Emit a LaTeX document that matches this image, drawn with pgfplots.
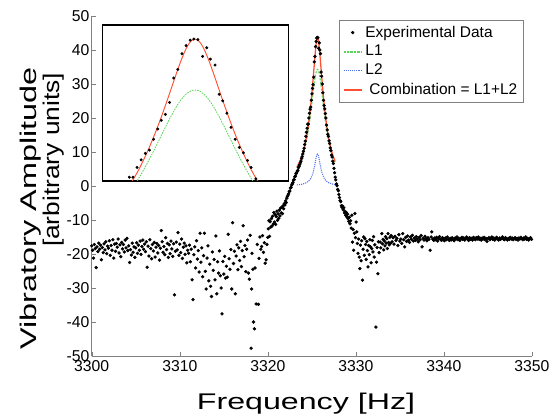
\documentclass[border=0pt]{standalone}
\usepackage{pgfplots}
\pgfplotsset{compat=1.18}
\usepackage{pgfplotstable}
\usepackage{fontspec}
\setmainfont{Liberation Sans}

\definecolor{fitgreen}{RGB}{90,215,90}
\definecolor{fitblue}{RGB}{80,110,240}
\definecolor{fitred}{RGB}{255,80,50}

\pgfplotstableread[row sep=\\]{
x y\\
3300.0 -17.6\\ 3300.1 -18.9\\ 3300.2 -21.2\\ 3300.3 -17.2\\ 3300.4 -18.4\\ 3300.5 -24.0\\ 3300.6 -17.9\\ 3300.7 -19.3\\ 3300.8 -16.8\\ 3300.9 -18.6\\
3301.0 -17.4\\ 3301.1 -21.7\\ 3301.2 -18.1\\ 3301.3 -19.6\\ 3301.4 -17.0\\ 3301.5 -18.8\\ 3301.6 -16.4\\ 3301.7 -19.9\\ 3301.8 -17.7\\ 3301.9 -18.3\\
3302.0 -16.1\\ 3302.1 -20.4\\ 3302.2 -17.5\\ 3302.3 -18.9\\ 3302.4 -15.8\\ 3302.5 -21.2\\ 3302.6 -17.1\\ 3302.7 -19.2\\ 3302.8 -16.9\\ 3302.9 -18.0\\
3303.0 -15.6\\ 3303.1 -19.7\\ 3303.2 -17.3\\ 3303.3 -20.8\\ 3303.4 -16.6\\ 3303.5 -18.5\\ 3303.6 -17.2\\ 3303.7 -19.4\\ 3303.8 -15.9\\ 3303.9 -18.2\\
3304.0 -15.4\\ 3304.1 -19.0\\ 3304.2 -17.6\\ 3304.3 -22.5\\ 3304.4 -18.7\\ 3304.5 -20.3\\ 3304.6 -16.8\\ 3304.7 -19.5\\ 3304.8 -17.9\\ 3304.9 -21.0\\
3305.0 -18.2\\ 3305.1 -16.7\\ 3305.2 -19.8\\ 3305.3 -17.4\\ 3305.4 -18.9\\ 3305.5 -16.2\\ 3305.6 -20.1\\ 3305.7 -17.8\\ 3305.8 -15.9\\ 3305.9 -18.6\\
3306.0 -17.1\\ 3306.1 -19.3\\ 3306.2 -16.4\\ 3306.3 -23.9\\ 3306.4 -17.7\\ 3306.5 -20.6\\ 3306.6 -15.8\\ 3306.7 -18.4\\ 3306.8 -21.4\\ 3306.9 -17.2\\
3307.0 -19.1\\ 3307.1 -16.6\\ 3307.2 -20.9\\ 3307.3 -18.0\\ 3307.4 -16.9\\ 3307.5 -19.7\\ 3307.6 -17.5\\ 3307.7 -21.8\\ 3307.8 -18.3\\ 3307.9 -13.1\\
3308.0 -16.4\\ 3308.1 -19.5\\ 3308.2 -17.8\\ 3308.3 -20.2\\ 3308.4 -15.2\\ 3308.5 -18.7\\ 3308.6 -16.9\\ 3308.7 -21.0\\ 3308.8 -17.3\\ 3308.9 -19.9\\
3309.0 -16.2\\ 3309.1 -18.5\\ 3309.2 -20.7\\ 3309.3 -17.0\\ 3309.4 -32.0\\ 3309.5 -19.2\\ 3309.6 -16.5\\ 3309.7 -18.8\\ 3309.8 -13.7\\ 3309.9 -20.4\\
3310.0 -17.1\\ 3310.1 -19.6\\ 3310.2 -15.6\\ 3310.3 -21.3\\ 3310.4 -18.0\\ 3310.5 -16.8\\ 3310.6 -20.1\\ 3310.7 -17.6\\ 3310.8 -22.6\\ 3310.9 -18.9\\
3311.0 -19.8\\ 3311.1 -17.4\\ 3311.2 -22.3\\ 3311.3 -18.6\\ 3311.4 -27.6\\ 3311.5 -33.4\\ 3311.6 -20.2\\ 3311.7 -17.9\\ 3311.8 -24.1\\ 3311.9 -16.1\\
3312.0 -21.5\\ 3312.1 -19.0\\ 3312.2 -25.3\\ 3312.3 -13.9\\ 3312.4 -22.4\\ 3312.5 -18.2\\ 3312.6 -26.7\\ 3312.7 -20.5\\ 3312.8 -13.9\\ 3312.9 -25.1\\
3313.0 -30.3\\ 3313.1 -21.2\\ 3313.2 -17.6\\ 3313.3 -27.9\\ 3313.4 -23.0\\ 3313.5 -29.5\\ 3313.6 -32.5\\ 3313.7 -19.4\\ 3313.8 -24.8\\ 3313.9 -21.6\\
3314.0 -27.6\\ 3314.1 -14.7\\ 3314.2 -31.7\\ 3314.3 -22.3\\ 3314.4 -25.6\\ 3314.5 -19.1\\ 3314.6 -26.4\\ 3314.7 -30.0\\ 3314.8 -37.6\\ 3314.9 -22.2\\
3315.0 -25.9\\ 3315.1 -20.7\\ 3315.2 -27.1\\ 3315.3 -23.6\\ 3315.4 -26.8\\ 3315.5 -14.2\\ 3315.6 -21.4\\ 3315.7 -24.5\\ 3315.8 -18.7\\ 3315.9 -30.3\\
3316.0 -10.8\\ 3316.1 -22.8\\ 3316.2 -19.2\\ 3316.3 -31.7\\ 3316.4 -20.6\\ 3316.5 -17.3\\ 3316.6 -24.6\\ 3316.7 -18.2\\ 3316.8 -21.9\\ 3316.9 -16.3\\
3317.0 -23.7\\ 3317.1 -19.0\\ 3317.2 -11.7\\ 3317.3 -20.8\\ 3317.4 -17.5\\ 3317.5 -25.2\\ 3317.6 -18.6\\ 3317.7 -15.9\\ 3317.8 -25.6\\ 3317.9 -27.4\\
3318.0 -14.5\\ 3318.1 -47.7\\ 3318.15 -30.3\\ 3318.2 -19.8\\ 3318.3 -24.5\\ 3318.37 -40.0\\ 3318.48 -42.0\\ 3318.55 -24.1\\ 3318.67 -34.7\\ 3318.8 -17.2\\
3318.93 -34.8\\ 3319.0 -21.3\\ 3319.1 -15.0\\ 3319.2 -18.6\\ 3319.3 -17.8\\ 3319.4 -14.6\\ 3319.5 -19.5\\ 3319.6 -16.7\\ 3319.7 -22.7\\ 3319.8 -21.7\\
3319.9 -17.2\\ 3320.0 -15.1\\
3320.05 -12.6\\ 3320.12 -10.2\\ 3320.19 -14.8\\ 3320.26 -10.5\\ 3320.33 -12.1\\ 3320.40 -9.6\\ 3320.47 -11.8\\ 3320.54 -8.9\\ 3320.61 -11.2\\ 3320.68 -7.8\\
3320.75 -10.6\\ 3320.82 -8.4\\ 3320.89 -11.3\\ 3320.96 -9.0\\ 3321.03 -7.4\\ 3321.10 -10.1\\ 3321.17 -8.2\\ 3321.24 -9.5\\ 3321.31 -7.1\\ 3321.38 -8.8\\
3321.45 -6.5\\ 3321.52 -7.9\\ 3321.59 -6.3\\ 3321.66 -8.1\\ 3321.73 -5.8\\ 3321.80 -6.7\\ 3321.87 -5.2\\ 3321.94 -5.6\\ 3322.01 -4.4\\ 3322.08 -4.9\\
3322.15 -3.6\\ 3322.22 -3.1\\ 3322.29 -2.7\\ 3322.36 -2.3\\ 3322.43 -1.6\\ 3322.50 -1.5\\ 3322.57 -0.6\\ 3322.64 -0.4\\ 3322.71 0.3\\ 3322.78 0.6\\
3322.85 1.0\\ 3322.92 1.7\\ 3322.99 1.9\\ 3323.06 2.7\\ 3323.13 2.9\\ 3323.20 3.6\\ 3323.27 3.9\\ 3323.34 4.4\\ 3323.41 4.6\\ 3323.48 5.4\\
3323.55 5.8\\ 3323.62 6.3\\ 3323.69 6.8\\ 3323.76 7.3\\ 3323.83 8.1\\ 3323.90 8.6\\ 3323.97 9.4\\ 3324.04 10.2\\ 3324.11 11.1\\ 3324.18 12.2\\
3324.25 13.2\\ 3324.32 14.6\\ 3324.39 15.8\\ 3324.46 17.0\\
3324.53 18.2\\ 3324.59 18.2\\ 3324.66 20.0\\ 3324.73 21.4\\ 3324.80 22.6\\ 3324.87 23.2\\ 3324.94 25.2\\ 3325.01 27.1\\ 3325.07 28.7\\ 3325.14 29.8\\
3325.21 32.0\\ 3325.28 36.5\\ 3325.35 38.1\\ 3325.42 41.0\\ 3325.49 42.5\\ 3325.56 43.5\\ 3325.62 43.7\\ 3325.69 43.6\\ 3325.77 40.5\\ 3325.84 42.1\\
3325.90 40.0\\ 3325.98 38.9\\ 3326.05 33.5\\ 3326.11 32.3\\ 3326.18 30.0\\ 3326.25 27.4\\ 3326.32 25.2\\ 3326.39 23.7\\ 3326.46 22.7\\ 3326.53 21.3\\
3326.59 20.0\\ 3326.67 17.9\\
3326.74 16.5\\ 3326.81 15.2\\ 3326.88 14.6\\ 3326.95 13.3\\ 3327.02 12.5\\ 3327.09 11.2\\ 3327.16 10.4\\ 3327.23 9.1\\ 3327.30 8.5\\ 3327.37 7.3\\
3327.44 6.6\\ 3327.51 5.2\\ 3327.58 3.9\\ 3327.65 2.6\\ 3327.72 1.8\\ 3327.79 0.6\\ 3327.86 0.1\\ 3327.93 -1.0\\ 3328.00 -1.4\\ 3328.07 -2.5\\
3328.14 -3.4\\ 3328.21 -4.3\\ 3328.28 -4.6\\ 3328.35 -5.8\\ 3328.42 -6.3\\ 3328.49 -5.9\\ 3328.56 -7.0\\ 3328.63 -6.4\\ 3328.70 -7.9\\ 3328.77 -7.5\\
3328.84 -8.6\\ 3328.91 -7.8\\ 3328.98 -9.1\\ 3329.05 -8.3\\ 3329.12 -9.6\\ 3329.19 -10.4\\ 3329.26 -9.2\\ 3329.33 -11.1\\ 3329.40 -10.2\\ 3329.47 -12.4\\
3329.54 -8.6\\ 3329.61 -16.5\\ 3329.68 -12.8\\ 3329.75 -18.9\\ 3329.82 -13.9\\ 3329.89 -8.1\\ 3329.96 -15.2\\ 3330.03 -10.6\\ 3330.10 -13.5\\ 3330.17 -16.9\\
3330.24 -19.8\\ 3330.31 -15.6\\ 3330.38 -20.9\\ 3330.45 -24.3\\ 3330.52 -17.4\\ 3330.59 -22.0\\ 3330.66 -16.1\\ 3330.75 -27.7\\ 3330.82 -18.6\\ 3330.89 -15.0\\
3330.96 -20.4\\ 3331.03 -15.5\\ 3331.10 -17.2\\ 3331.17 -21.6\\ 3331.24 -16.3\\ 3331.31 -19.0\\ 3331.38 -23.8\\ 3331.45 -17.5\\ 3331.52 -20.2\\ 3331.59 -15.8\\
3331.66 -17.9\\ 3331.73 -22.6\\ 3331.80 -18.4\\ 3331.87 -16.0\\ 3331.94 -19.4\\ 3332.01 -14.9\\ 3332.08 -20.9\\ 3332.15 -17.3\\ 3332.27 -41.5\\ 3332.34 -22.4\\
3332.41 -18.1\\ 3332.50 -25.8\\ 3332.57 -16.4\\ 3332.64 -19.6\\ 3332.76 -16.5\\ 3332.83 -18.2\\ 3332.95 -14.0\\ 3333.02 -17.0\\ 3333.09 -15.7\\ 3333.16 -18.8\\
3333.23 -16.2\\ 3333.30 -17.6\\ 3333.37 -14.9\\ 3333.44 -16.8\\ 3333.51 -15.5\\ 3333.58 -18.4\\ 3333.65 -14.0\\ 3333.72 -16.6\\ 3333.79 -17.3\\ 3333.86 -15.1\\
3333.93 -16.9\\ 3334.00 -14.6\\
3334.11 -16.4\\ 3334.22 -15.2\\ 3334.33 -17.1\\ 3334.44 -14.8\\ 3334.55 -16.0\\ 3334.66 -15.4\\ 3334.77 -17.5\\ 3334.88 -14.3\\ 3334.99 -16.2\\ 3335.10 -15.6\\
3335.21 -16.9\\ 3335.32 -14.0\\ 3335.43 -15.8\\ 3335.54 -17.9\\ 3335.65 -15.1\\ 3335.76 -16.3\\ 3335.87 -14.7\\ 3335.98 -15.9\\ 3336.09 -16.6\\ 3336.20 -15.0\\
3336.31 -15.7\\ 3336.42 -14.5\\ 3336.53 -16.2\\ 3336.64 -15.3\\ 3336.75 -16.0\\ 3336.86 -14.9\\ 3336.97 -15.6\\ 3337.08 -16.4\\ 3337.19 -15.1\\ 3337.30 -15.8\\
3337.41 -14.6\\ 3337.52 -17.9\\ 3337.63 -15.4\\ 3337.74 -15.9\\ 3337.85 -14.8\\ 3337.96 -15.5\\ 3338.07 -16.1\\ 3338.18 -15.2\\ 3338.29 -15.7\\ 3338.44 -18.9\\
3338.55 -15.0\\ 3338.62 -13.5\\ 3338.73 -15.6\\ 3338.84 -16.0\\ 3338.95 -15.3\\ 3339.06 -15.8\\ 3339.17 -15.1\\ 3339.28 -16.2\\ 3339.39 -15.5\\ 3339.50 -14.9\\
3339.61 -15.7\\ 3339.72 -16.0\\ 3339.83 -15.2\\ 3339.94 -15.6\\ 3340.05 -16.1\\ 3340.16 -15.3\\ 3340.27 -15.8\\ 3340.38 -15.0\\ 3340.49 -15.6\\ 3340.60 -16.0\\
3340.71 -15.4\\ 3340.82 -15.9\\ 3340.93 -15.2\\ 3341.04 -15.7\\ 3341.15 -16.1\\ 3341.26 -15.3\\ 3341.37 -15.6\\ 3341.48 -15.0\\ 3341.59 -15.8\\ 3341.70 -15.4\\
3341.81 -16.0\\ 3341.92 -15.5\\ 3342.03 -15.1\\ 3342.14 -15.7\\ 3342.25 -15.3\\ 3342.36 -15.9\\ 3342.47 -15.4\\ 3342.58 -15.0\\ 3342.69 -15.6\\ 3342.80 -16.0\\
3342.91 -15.2\\ 3343.02 -15.7\\ 3343.13 -15.4\\ 3343.24 -15.9\\ 3343.35 -15.1\\ 3343.46 -15.5\\ 3343.57 -15.8\\ 3343.68 -15.2\\ 3343.79 -15.6\\ 3343.90 -15.0\\
3344.01 -15.7\\ 3344.12 -15.4\\ 3344.23 -15.9\\ 3344.34 -15.3\\ 3344.45 -15.6\\ 3344.56 -15.1\\ 3344.67 -15.8\\ 3344.78 -15.4\\ 3344.89 -16.3\\ 3345.00 -15.5\\
3345.11 -15.2\\ 3345.22 -15.8\\ 3345.33 -15.4\\ 3345.44 -15.0\\ 3345.55 -15.7\\ 3345.66 -15.3\\ 3345.77 -15.9\\ 3345.88 -15.5\\ 3345.99 -15.1\\ 3346.10 -15.6\\
3346.21 -15.9\\ 3346.32 -15.3\\ 3346.43 -15.7\\ 3346.54 -15.4\\ 3346.65 -15.0\\ 3346.76 -15.6\\ 3346.87 -15.8\\ 3346.98 -15.2\\ 3347.09 -15.5\\ 3347.20 -15.9\\
3347.31 -15.4\\ 3347.42 -15.7\\ 3347.53 -15.1\\ 3347.64 -15.6\\ 3347.75 -15.3\\ 3347.86 -15.8\\ 3347.97 -15.5\\ 3348.08 -15.2\\ 3348.19 -15.7\\ 3348.30 -15.4\\
3348.41 -15.9\\ 3348.52 -15.3\\ 3348.63 -15.6\\ 3348.74 -15.1\\ 3348.85 -15.5\\ 3348.96 -15.8\\ 3349.07 -15.3\\ 3349.18 -15.6\\ 3349.29 -15.0\\ 3349.40 -15.7\\
3349.51 -15.4\\ 3349.62 -15.9\\ 3349.73 -15.5\\ 3349.84 -15.2\\ 3349.95 -15.7\\
}\expdata

% fitted Lorentzians L1, L2 and their sum
\pgfplotstableread[row sep=\\]{
x l1 l2 r\\
3323.30 5.297 0.307 5.604\\ 3323.44 5.873 0.346 6.219\\ 3323.64 6.860 0.415 7.275\\ 3323.84 8.090 0.508 8.598\\
3324.04 9.635 0.633 10.268\\ 3324.24 11.588 0.810 12.398\\ 3324.44 14.057 1.070 15.127\\ 3324.64 17.150 1.467 18.617\\
3324.74 18.950 1.747 20.697\\ 3324.84 20.915 2.107 23.022\\ 3324.94 23.020 2.575 25.595\\ 3325.04 25.221 3.190 28.411\\
3325.14 27.440 3.997 31.437\\ 3325.24 29.569 5.039 34.608\\ 3325.34 31.468 6.323 37.791\\ 3325.39 32.282 7.025 39.307\\
3325.44 32.981 7.728 40.709\\ 3325.49 33.545 8.380 41.925\\ 3325.54 33.960 8.918 42.878\\ 3325.59 34.214 9.275 43.489\\
3325.64 34.300 9.400 43.700\\ 3325.69 34.214 9.275 43.489\\ 3325.74 33.960 8.918 42.878\\ 3325.79 33.545 8.380 41.925\\
3325.84 32.981 7.728 40.709\\ 3325.89 32.282 7.025 39.307\\ 3325.94 31.468 6.323 37.791\\ 3326.04 29.569 5.039 34.608\\
3326.14 27.440 3.997 31.437\\ 3326.24 25.221 3.190 28.411\\ 3326.34 23.020 2.575 25.595\\ 3326.44 20.915 2.107 23.022\\
3326.54 18.950 1.747 20.697\\ 3326.64 17.150 1.467 18.617\\ 3326.84 14.057 1.070 15.127\\ 3327.04 11.588 0.810 12.398\\
3327.24 9.635 0.633 10.268\\ 3327.44 8.090 0.508 8.598\\ 3327.65 6.805 0.411 7.216\\
}\fits

\begin{document}
\begin{tikzpicture}
\useasboundingbox (-68.8pt,-45.75pt) rectangle (345.95pt,267pt);
\begin{axis}[
  at={(0pt,0pt)}, anchor=south west,
  scale only axis, width=330.2pt, height=255pt,
  xmin=3300, xmax=3350, ymin=-50, ymax=50,
  xtick={3300,3310,...,3350}, ytick={-50,-40,...,50},
  axis lines*=left,
  axis line style={-, draw=black!50},
  every outer x axis line/.append style={-},
  every outer y axis line/.append style={-},
  tick align=inside, major tick length=3pt,
  tick style={black!50},
  tick label style={font=\fontsize{11.8}{13}\selectfont},
  yticklabel style={inner sep=1.5pt},
  xticklabel style={inner sep=3pt},
  /pgf/number format/assume math mode=true,
  /pgf/number format/1000 sep={},
  legend style={at={(0.980,0.988)}, anchor=north east,
    font=\fontsize{11.6}{13}\selectfont, row sep=0.6pt, inner sep=2.2pt,
    cells={anchor=west}, draw=black!50},
  legend image code/.code={\draw[#1, line width=1.4pt] (0pt,0pt) -- (13.7pt,0pt);},
]
\addplot[only marks, mark=*, mark size=1.05pt, draw=black, fill=black,
  legend image code/.code={\fill[black] (6.85pt,0pt) circle[radius=1.05pt];}]
  table[x=x,y=y]{\expdata};
\addlegendentry{Experimental Data}
\addplot[draw=fitgreen, line width=0.8pt, dash pattern=on 1.6pt off 1pt, smooth] table[x=x,y=l1]{\fits};
\addlegendentry{L1}
\addplot[draw=fitblue, line width=0.8pt, dash pattern=on 0.8pt off 0.8pt, smooth] table[x=x,y=l2]{\fits};
\addlegendentry{L2}
\addplot[draw=fitred, line width=0.95pt, smooth] table[x=x,y=r]{\fits};
\addlegendentry{\hspace{3pt}Combination = L1+L2}
\end{axis}

\begin{axis}[
  at={(8.25pt,131.25pt)}, anchor=south west,
  scale only axis, width=139.2pt, height=117pt,
  xmin=3324.08, xmax=3327.22, ymin=17.5, ymax=46.3,
  xtick=\empty, ytick=\empty,
  axis line style={black, line width=1.1pt},
  axis background/.style={fill=white},
]
\addplot[only marks, mark=*, mark size=0.9pt, draw=black, fill=black] table[x=x,y=y]{\expdata};
\addplot[draw=fitgreen, line width=0.6pt, dash pattern=on 1.2pt off 0.8pt, smooth] table[x=x,y=l1]{\fits};
\addplot[draw=fitred, line width=0.7pt, smooth] table[x=x,y=r]{\fits};
\end{axis}

\node[anchor=base, font=\fontsize{17}{20}\selectfont] at (160.7pt,-40.5pt)
  {\scalebox{1.42}[1]{Frequency [Hz]}};
\node[rotate=90, anchor=base, font=\fontsize{17}{20}\selectfont] at (-41.25pt,110.8pt)
  {\scalebox{1.43}[1]{Vibratory Amplitude}};
\node[rotate=90, anchor=base, font=\fontsize{17}{20}\selectfont] at (-23.8pt,147pt)
  {\scalebox{1.16}[1]{[arbitrary units]}};
\end{tikzpicture}
\end{document}
